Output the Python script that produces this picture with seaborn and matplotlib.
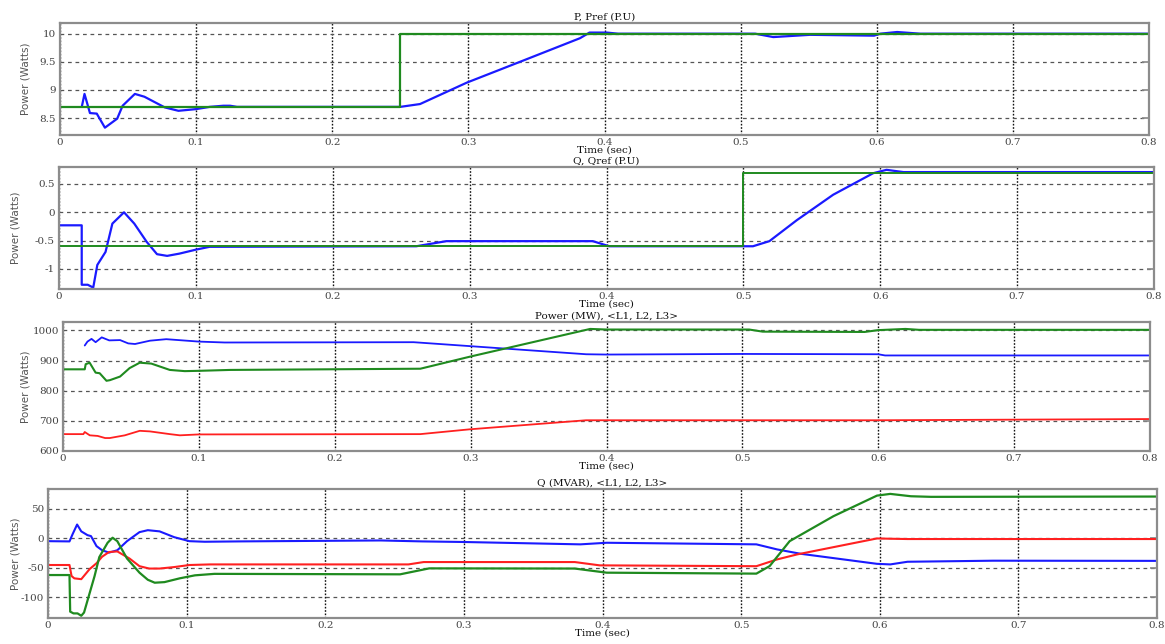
import matplotlib
matplotlib.use("Agg")
import matplotlib.pyplot as plt
import seaborn as sns

# ---------------- data ----------------
# Active power (P.U): measured P and reference Pref
p_t = [0.016, 0.018, 0.022, 0.027, 0.033, 0.042, 0.046, 0.055, 0.062, 0.077, 0.087,
       0.100, 0.110, 0.120, 0.125, 0.130, 0.250, 0.2645, 0.2988, 0.340, 0.382, 0.389,
       0.4017, 0.410, 0.5107, 0.524, 0.551, 0.598, 0.6025, 0.615, 0.632, 0.800]
p_val = [8.70, 8.93, 8.59, 8.58, 8.33, 8.49, 8.72, 8.93, 8.88, 8.69, 8.63,
         8.66, 8.70, 8.72, 8.72, 8.70, 8.70, 8.75, 9.13, 9.52, 9.92, 10.02,
         10.02, 10.00, 10.00, 9.94, 9.98, 9.965, 10.00, 10.03, 10.00, 10.00]
pref_t = [0.0, 0.25, 0.25, 0.80]
pref_val = [8.70, 8.70, 10.00, 10.00]

# Reactive power (P.U): measured Q and reference Qref
q_t = [0.0, 0.0166, 0.0166, 0.021, 0.0226, 0.025, 0.028, 0.034, 0.039, 0.0475, 0.055,
       0.064, 0.0716, 0.079, 0.088, 0.100, 0.110, 0.261, 0.283, 0.390, 0.402,
       0.507, 0.519, 0.539, 0.5656, 0.5948, 0.6046, 0.617, 0.800]
q_val = [-0.23, -0.23, -1.28, -1.28, -1.30, -1.33, -0.93, -0.70, -0.20, 0.00, -0.20,
         -0.52, -0.74, -0.77, -0.73, -0.66, -0.61, -0.60, -0.51, -0.51, -0.60,
         -0.60, -0.51, -0.14, 0.31, 0.69, 0.75, 0.71, 0.71]
qref_t = [0.0, 0.50, 0.50, 0.80]
qref_val = [-0.60, -0.60, 0.70, 0.70]

# Line active power (MW): L1 blue, L2 green, L3 red
l1p_t = [0.016, 0.018, 0.021, 0.024, 0.0285, 0.034, 0.042, 0.048, 0.053, 0.064, 0.076,
         0.100, 0.119, 0.258, 0.385, 0.400, 0.500, 0.600, 0.605, 0.800]
l1p_val = [950, 963, 972, 961, 977, 967, 968, 957, 955, 966, 971,
           963, 960, 961, 921, 920, 922, 921, 917, 917]
l2p_t = [0.0, 0.016, 0.0167, 0.0196, 0.024, 0.027, 0.032, 0.0345, 0.042, 0.049, 0.0565,
         0.065, 0.0786, 0.0896, 0.100, 0.123, 0.263, 0.2995, 0.388, 0.400, 0.505,
         0.515, 0.590, 0.600, 0.620, 0.630, 0.800]
l2p_val = [871, 871, 888, 893, 860, 858, 833, 835, 847, 875, 893,
           890, 869, 865, 866, 869, 873, 913, 1005, 1003, 1003,
           996, 995, 1001, 1005, 1002, 1002]
l3p_t = [0.0, 0.015, 0.016, 0.0197, 0.0255, 0.031, 0.0344, 0.0455, 0.0565, 0.064,
         0.0786, 0.086, 0.100, 0.263, 0.2995, 0.385, 0.600, 0.800]
l3p_val = [656, 656, 663, 652, 650, 643, 643, 652, 667, 665,
           656, 652, 655, 656, 672, 702, 702, 706]

# Line reactive power (MVAR): L1 blue, L2 green, L3 red
l1q_t = [0.0, 0.0155, 0.0177, 0.021, 0.024, 0.0285, 0.031, 0.035, 0.039, 0.044, 0.050,
         0.057, 0.066, 0.072, 0.0805, 0.091, 0.102, 0.113, 0.138, 0.240, 0.270, 0.300,
         0.384, 0.403, 0.511, 0.526, 0.543, 0.598, 0.6076, 0.620, 0.682, 0.800]
l1q_val = [-4.6, -5.0, 7.0, 23.6, 12.0, 5.6, 4.0, -13.0, -20.0, -24.0, -20.0,
           -4.6, 10.7, 14.0, 12.0, 2.2, -4.6, -5.6, -5.0, -3.4, -5.0, -6.0,
           -10.0, -7.3, -10.0, -18.6, -26.0, -43.0, -44.0, -39.5, -37.7, -38.0]
l2q_t = [0.0, 0.0155, 0.016, 0.0184, 0.0213, 0.024, 0.026, 0.0336, 0.037, 0.043, 0.0466,
         0.050, 0.057, 0.066, 0.072, 0.077, 0.084, 0.095, 0.106, 0.120, 0.254, 0.275,
         0.380, 0.403, 0.511, 0.5206, 0.535, 0.5666, 0.598, 0.6076, 0.6225, 0.637, 0.800]
l2q_val = [-62.0, -62.0, -124.0, -127.0, -127.0, -131.0, -125.5, -63.7, -31.6, -7.3, 1.2,
           -4.6, -34.0, -58.0, -70.0, -75.0, -74.0, -67.6, -62.5, -60.0, -60.8, -50.7,
           -51.0, -58.0, -59.6, -46.8, -4.6, 37.7, 72.6, 75.5, 71.5, 70.5, 71.0]
l3q_t = [0.0, 0.0155, 0.017, 0.019, 0.024, 0.030, 0.035, 0.039, 0.044, 0.050, 0.0588,
         0.066, 0.073, 0.0805, 0.091, 0.102, 0.117, 0.260, 0.271, 0.380, 0.398, 0.511,
         0.526, 0.5405, 0.598, 0.608, 0.620, 0.800]
l3q_val = [-45.0, -45.0, -63.7, -67.6, -69.0, -52.0, -42.0, -31.0, -23.0, -22.0, -34.0,
           -47.0, -51.0, -51.0, -48.5, -45.0, -44.0, -44.0, -40.0, -40.0, -45.6, -47.0,
           -35.5, -27.0, 0.0, -0.5, -1.0, -1.0]

x_ticks = [0.0, 0.1, 0.2, 0.3, 0.4, 0.5, 0.6, 0.7, 0.8]
x_tick_labels = ["0", "0.1", "0.2", "0.3", "0.4", "0.5", "0.6", "0.7", "0.8"]

titles = ["P, Pref (P.U)", "Q, Qref (P.U)",
          "Power (MW), <L1, L2, L3>", "Q (MVAR), <L1, L2, L3>"]

BLUE, GREEN, RED = "#1a1aff", "#1f8a1f", "#ff2020"

# ---------------- figure ----------------
sns.set_theme(style="white")
plt.rcParams["font.family"] = ["DejaVu Serif"]

W, H = 1165, 644
fig = plt.figure(figsize=(W / 100, H / 100), dpi=100)


def rect(l, t, r, b):
    return [l / W, 1 - b / H, (r - l) / W, (b - t) / H]


panels = [
    dict(box=(60, 23, 1149, 135), ylim=(8.2, 10.19), yticks=[8.5, 9, 9.5, 10],
         ylabels=["8.5", "9", "9.5", "10"], ylab_px=25),
    dict(box=(59, 167, 1154, 289), ylim=(-1.355, 0.80), yticks=[-1, -0.5, 0, 0.5],
         ylabels=["-1", "-0.5", "0", "0.5"], ylab_px=15),
    dict(box=(63, 322, 1150, 451), ylim=(600, 1028), yticks=[600, 700, 800, 900, 1000],
         ylabels=["600", "700", "800", "900", "1000"], ylab_px=25),
    dict(box=(48, 489, 1157, 618), ylim=(-134.8, 83.8), yticks=[-100, -50, 0, 50],
         ylabels=["-100", "-50", "0", "50"], ylab_px=15),
]

axes = []
for i, pdef in enumerate(panels):
    ax = fig.add_axes(rect(*pdef["box"]))
    axes.append(ax)
    ax.set_xlim(0, 0.8)
    ax.set_ylim(*pdef["ylim"])
    ax.set_xticks(x_ticks)
    ax.set_xticklabels(x_tick_labels)
    ax.set_yticks(pdef["yticks"])
    ax.set_yticklabels(pdef["ylabels"])
    ax.xaxis.grid(True, linestyle=(0, (1.2, 1.2)), color="#111111", linewidth=1.0)
    ax.yaxis.grid(True, linestyle=(0, (3, 3)), color="#555555", linewidth=0.9)
    ax.set_axisbelow(True)
    ax.tick_params(axis="both", direction="in", length=5, width=1.2, color="#888888",
                   labelsize=7.5, labelcolor="#444444", right=True, top=False, pad=3)
    ax.tick_params(axis="x", length=0, pad=2)
    for s in ax.spines.values():
        s.set_color("#8c8c8c")
        s.set_linewidth(1.6)
    ax.set_title(titles[i], fontsize=7.5, pad=2.5, color="#111111")
    ax.set_xlabel("Time (sec)", fontsize=7.5, labelpad=-1, color="#111111")
    ax.set_ylabel("Power (Watts)", fontsize=7.5, color="#555555",
                  family=["Liberation Sans Narrow", "DejaVu Sans"])
    l, t, r, b = pdef["box"]
    ax.yaxis.set_label_coords((pdef["ylab_px"] + 5 - l) / (r - l), 0.5)

# P, Pref
ax = axes[0]
sns.lineplot(x=p_t, y=p_val, ax=ax, color=BLUE, lw=1.6, estimator=None, sort=False)
sns.lineplot(x=pref_t, y=pref_val, ax=ax, color=GREEN, lw=1.6, estimator=None, sort=False)

# Q, Qref
ax = axes[1]
sns.lineplot(x=q_t, y=q_val, ax=ax, color=BLUE, lw=1.6, estimator=None, sort=False)
sns.lineplot(x=qref_t, y=qref_val, ax=ax, color=GREEN, lw=1.4, estimator=None, sort=False)

# Line active power
ax = axes[2]
sns.lineplot(x=l1p_t, y=l1p_val, ax=ax, color=BLUE, lw=1.3, estimator=None, sort=False)
sns.lineplot(x=l2p_t, y=l2p_val, ax=ax, color=GREEN, lw=1.5, estimator=None, sort=False)
sns.lineplot(x=l3p_t, y=l3p_val, ax=ax, color=RED, lw=1.3, estimator=None, sort=False)

# Line reactive power
ax = axes[3]
sns.lineplot(x=l1q_t, y=l1q_val, ax=ax, color=BLUE, lw=1.5, estimator=None, sort=False)
sns.lineplot(x=l3q_t, y=l3q_val, ax=ax, color=RED, lw=1.5, estimator=None, sort=False)
sns.lineplot(x=l2q_t, y=l2q_val, ax=ax, color=GREEN, lw=1.6, estimator=None, sort=False)

fig.savefig("out.png", dpi=100)
